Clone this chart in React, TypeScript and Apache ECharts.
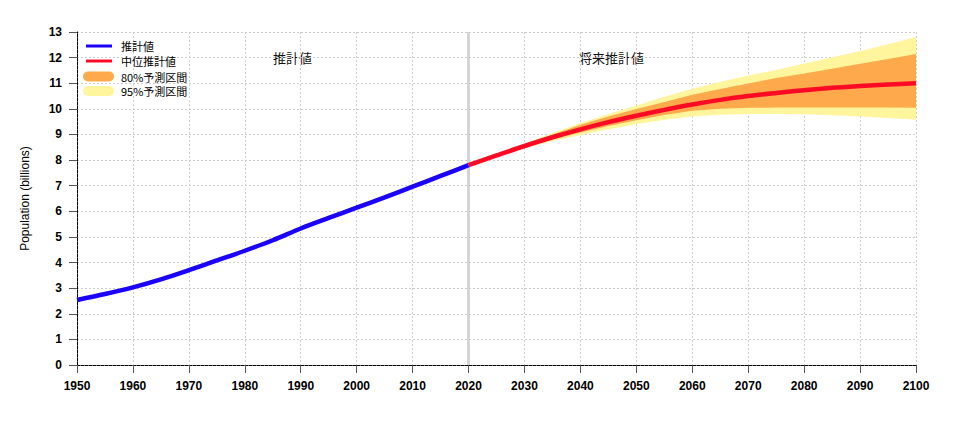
import React, { useEffect, useRef } from "react";
import * as echarts from "echarts";

const estYears = [1950, 1955, 1960, 1965, 1970, 1975, 1980, 1985, 1990, 1995, 2000, 2005, 2010, 2015, 2020];
const estimate = [2.54, 2.77, 3.03, 3.34, 3.70, 4.08, 4.46, 4.87, 5.33, 5.74, 6.14, 6.54, 6.96, 7.38, 7.80];

const projYears = [2020, 2025, 2030, 2035, 2040, 2045, 2050, 2055, 2060, 2065, 2070, 2075, 2080, 2085, 2090, 2095, 2100];
const median = [7.80, 8.18, 8.55, 8.89, 9.20, 9.48, 9.73, 9.96, 10.17, 10.35, 10.50, 10.62, 10.73, 10.82, 10.89, 10.95, 11.00];
const upper80 = [7.80, 8.20, 8.60, 9.00, 9.38, 9.70, 9.99, 10.27, 10.55, 10.77, 10.99, 11.20, 11.38, 11.57, 11.76, 11.95, 12.14];
const lower80 = [7.80, 8.16, 8.50, 8.80, 9.08, 9.33, 9.55, 9.76, 9.93, 10.00, 10.04, 10.05, 10.05, 10.05, 10.05, 10.05, 10.04];
const upper95 = [7.80, 8.22, 8.64, 9.06, 9.45, 9.80, 10.13, 10.47, 10.78, 11.06, 11.30, 11.52, 11.77, 12.01, 12.26, 12.52, 12.80];
const lower95 = [7.80, 8.14, 8.46, 8.74, 8.98, 9.20, 9.40, 9.57, 9.70, 9.77, 9.80, 9.80, 9.79, 9.75, 9.70, 9.64, 9.57];

const seriesNames = ["推計値", "中位推計値", "80%予測区間", "95%予測区間"];
const periodLabels = ["推計値", "将来推計値"];

const BLUE = "#1a00ff";
const RED = "#ff0a24";
const ORANGE = "#ffa94d";
const YELLOW = "#fff59d";
const pill = "path://M5,0 H26 A5,5 0 0 1 26,10 H5 A5,5 0 0 1 5,0 Z";

function bandSeries(name: string, color: string, lower: number[], upper: number[], z: number) {
  const data = projYears.map((y, i) => [y, lower[i], upper[i]]);
  return {
    type: "custom",
    name,
    z,
    silent: true,
    itemStyle: { color },
    encode: { x: 0, y: [1, 2] },
    data,
    renderItem: (params: any, api: any) => {
      if (params.dataIndex !== 0) return null;
      const top = data.map((d) => api.coord([d[0], d[2]]));
      const bottom = data.map((d) => api.coord([d[0], d[1]])).reverse();
      return {
        type: "polygon",
        shape: { points: top.concat(bottom) },
        style: { fill: color, stroke: "none" },
      };
    },
  };
}

export default function App() {
  const ref = useRef<HTMLDivElement>(null);
  useEffect(() => {
    const chart = echarts.init(ref.current!, null, { renderer: "svg" });
    const pairs = (xs: number[], ys: number[]) => xs.map((x, i) => [x, ys[i]]);
    const axisFont = { fontFamily: "Liberation Sans, Arial", fontWeight: "bold" as const, fontSize: 12, color: "#000" };
    const legendText = { fontFamily: "Noto Sans CJK JP", fontSize: 11, color: "#000", lineHeight: 12 };
    chart.setOption({
      animation: false,
      grid: { left: 77, right: 47, top: 32, bottom: 59 },
      legend: [
        {
          orient: "vertical",
          left: 86,
          top: 40,
          padding: 0,
          itemWidth: 26,
          itemHeight: 3,
          itemGap: 3,
          icon: "rect",
          selectedMode: false,
          textStyle: { ...legendText, padding: [0, 0, 0, 4] },
          data: [
            { name: seriesNames[0], itemStyle: { color: BLUE } },
            { name: seriesNames[1], itemStyle: { color: RED } },
          ],
        },
        {
          orient: "vertical",
          left: 83,
          top: 70.5,
          padding: 0,
          itemWidth: 31,
          itemHeight: 10,
          itemGap: 2.5,
          icon: pill,
          selectedMode: false,
          textStyle: { ...legendText, padding: [0, 0, 0, 2] },
          data: [
            { name: seriesNames[2], itemStyle: { color: ORANGE } },
            { name: seriesNames[3], itemStyle: { color: YELLOW } },
          ],
        },
      ],
      xAxis: {
        type: "value",
        min: 1950,
        max: 2100,
        interval: 10,
        axisLine: { show: true, lineStyle: { color: "#000", width: 1, type: [3, 1] } },
        axisTick: { show: true, length: 8, lineStyle: { color: "#555" } },
        axisLabel: { ...axisFont, margin: 15, formatter: (v: number) => String(v) },
        splitLine: { show: true, lineStyle: { color: "#cccccc", type: [2, 2] } },
      },
      yAxis: {
        type: "value",
        min: 0,
        max: 13,
        interval: 1,
        name: "Population (billions)",
        nameLocation: "middle",
        nameGap: 46,
        nameTextStyle: { fontFamily: "Liberation Sans, Arial", fontSize: 12, color: "#000" },
        axisLine: { show: true, lineStyle: { color: "#000", width: 1, type: [3, 1] } },
        axisTick: { show: true, length: 8, lineStyle: { color: "#555" } },
        axisLabel: { ...axisFont, margin: 15 },
        splitLine: { show: true, lineStyle: { color: "#cccccc", type: [2, 2] } },
      },
      graphic: [
        {
          type: "text",
          left: 273,
          top: 51,
          style: { text: periodLabels[0], fontFamily: "Noto Sans CJK JP", fontSize: 13, fill: "#111" },
        },
        {
          type: "text",
          left: 579,
          top: 51,
          style: { text: periodLabels[1], fontFamily: "Noto Sans CJK JP", fontSize: 13, fill: "#111" },
        },
      ],
      series: [
        bandSeries(seriesNames[3], YELLOW, lower95, upper95, 2),
        bandSeries(seriesNames[2], ORANGE, lower80, upper80, 3),
        {
          type: "line",
          name: seriesNames[0],
          data: pairs(estYears, estimate),
          symbol: "none",
          smooth: 0.3,
          color: BLUE,
          lineStyle: { color: BLUE, width: 4.5 },
          z: 5,
          markLine: {
            silent: true,
            symbol: "none",
            z: 1,
            label: { show: false },
            lineStyle: { color: "#d4d4d4", width: 3, type: "solid" },
            data: [{ xAxis: 2020 }],
          },
        },
        {
          type: "line",
          name: seriesNames[1],
          data: pairs(projYears, median),
          symbol: "none",
          smooth: 0.3,
          color: RED,
          lineStyle: { color: RED, width: 4.5 },
          z: 6,
        },
      ],
    });
    return () => chart.dispose();
  }, []);
  return (
    <div
      ref={ref}
      style={{ position: "fixed", left: 0, top: 0, width: 963, height: 424, background: "#fff" }}
    />
  );
}
